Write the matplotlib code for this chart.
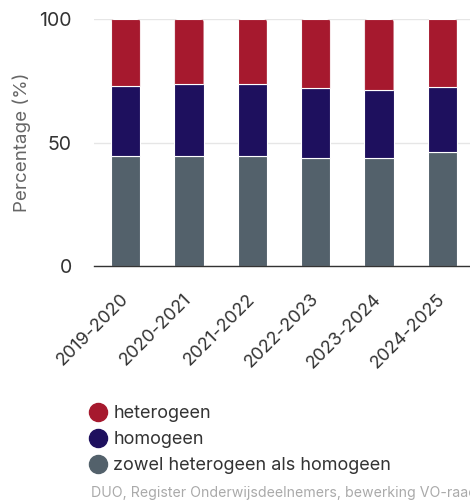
import numpy as np
import matplotlib.pyplot as plt
from matplotlib.lines import Line2D
from matplotlib.patches import FancyBboxPatch

years = ['2019-2020', '2020-2021', '2021-2022', '2022-2023', '2023-2024', '2024-2025']
zowel = [44.5, 44.5, 44.5, 43.9, 43.9, 46.2]
homogeen = [28.5, 29.2, 29.2, 28.0, 27.5, 26.3]
heterogeen = [27.0, 26.3, 26.3, 28.1, 28.6, 27.7]

series = ['heterogeen', 'homogeen', 'zowel heterogeen als homogeen']
colors = {'heterogeen': '#A6192E', 'homogeen': '#1E105E',
          'zowel heterogeen als homogeen': '#53616B'}

plt.rcParams['font.family'] = ['Inter', 'DejaVu Sans']

fig = plt.figure(figsize=(4.70, 5.01), dpi=100)
ax = fig.add_axes([94 / 470, 1 - 266 / 501, 380 / 470, 247 / 501])

x = np.arange(len(years))
w = 0.46
bottom = np.zeros(len(years))
for name, vals in [('zowel heterogeen als homogeen', zowel),
                   ('homogeen', homogeen), ('heterogeen', heterogeen)]:
    bars = ax.bar(x, vals, w, bottom=bottom, color=colors[name],
                  edgecolor='white', linewidth=0.8, zorder=3)
    bottom += np.array(vals)

# round off the top corners of the top segment
for r in bars.patches:
    x0, y0 = r.get_x(), r.get_y()
    clip = FancyBboxPatch((x0, y0 - 5), r.get_width(), r.get_height() + 5,
                          boxstyle='round,pad=0,rounding_size=0.05',
                          mutation_aspect=24, transform=ax.transData)
    r.set_clip_path(clip)

ax.set_xlim(-0.5, len(years) - 0.5)
ax.set_ylim(0, 100)
ax.set_yticks([0, 50, 100])
ax.set_xticks(x)
ax.set_xticklabels(years, rotation=45, ha='right', va='center', rotation_mode='anchor')
ax.tick_params(axis='x', length=0, pad=22, labelsize=13, labelcolor='#333333')
ax.tick_params(axis='y', length=0, pad=16, labelsize=14, labelcolor='#333333')
ax.grid(axis='y', color='#e6e6e6', linewidth=1, zorder=0)
for s in ['top', 'right', 'left']:
    ax.spines[s].set_visible(False)
ax.spines['bottom'].set_color('#333333')
ax.spines['bottom'].set_linewidth(1)
ax.spines['bottom'].set_zorder(4)
ax.set_ylabel('Percentage (%)', color='#666666', fontsize=13.5, labelpad=6)

handles = [Line2D([], [], marker='o', linestyle='', markersize=13,
                  color=colors[n]) for n in series]
fig.legend(handles, series, loc='upper left', bbox_to_anchor=(80 / 470, 1 - 398 / 501),
           frameon=False, fontsize=13, labelcolor='#333333',
           handletextpad=0.25, labelspacing=0.5, handlelength=1.2, borderaxespad=0)

fig.text(91 / 470, 1 - 493 / 501, 'DUO, Register Onderwijsdeelnemers, bewerking VO-raad',
         fontsize=10.2, color='#aaaaaa', va='center')

fig.savefig('out.png', dpi=100)
